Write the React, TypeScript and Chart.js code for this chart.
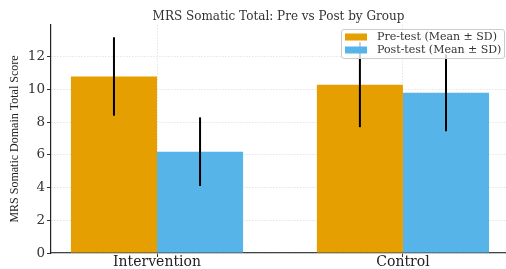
import React, { useEffect, useRef } from "react";
import { Chart, registerables } from "chart.js";

Chart.register(...registerables);

const categories = ["Intervention", "Control"];
const seriesLabels = ["Pre-test (Mean ± SD)", "Post-test (Mean ± SD)"];
const preMean = [10.8, 10.3];
const preSD = [2.4, 2.6];
const postMean = [6.2, 9.8];
const postSD = [2.1, 2.35];
const colors = ["#E69F00", "#56B4E9"];
const titleText = "MRS Somatic Total: Pre vs Post by Group";
const yTitle = "MRS Somatic Domain Total Score";

const errorBarPlugin = {
  id: "errorBars",
  afterDatasetsDraw(chart: any) {
    const ctx = chart.ctx;
    const y = chart.scales.y;
    const sds = [preSD, postSD];
    chart.data.datasets.forEach((ds: any, di: number) => {
      const meta = chart.getDatasetMeta(di);
      meta.data.forEach((el: any, i: number) => {
        const m = ds.data[i].y;
        const sd = sds[di][i];
        ctx.save();
        ctx.strokeStyle = "#000";
        ctx.lineWidth = 2;
        ctx.beginPath();
        ctx.moveTo(el.x, y.getPixelForValue(m + sd));
        ctx.lineTo(el.x, y.getPixelForValue(m - sd));
        ctx.stroke();
        ctx.restore();
      });
    });
  },
};

const legendPlugin = {
  id: "boxLegend",
  afterDraw(chart: any) {
    const ctx = chart.ctx;
    const area = chart.chartArea;
    const x0 = 341;
    const y0 = 29;
    const w = area.right - 2 - x0;
    const h = 29;
    ctx.save();
    ctx.fillStyle = "rgba(255,255,255,0.8)";
    ctx.strokeStyle = "#cccccc";
    ctx.lineWidth = 1;
    ctx.beginPath();
    (ctx as any).roundRect(x0 + 0.5, y0 + 0.5, w, h, 2.5);
    ctx.fill();
    ctx.stroke();
    ctx.font = "11px 'DejaVu Serif'";
    ctx.textBaseline = "middle";
    chart.data.datasets.forEach((ds: any, i: number) => {
      const cy = y0 + 8 + i * 13;
      ctx.fillStyle = ds.backgroundColor;
      ctx.fillRect(x0 + 4, cy - 3.5, 22, 7);
      ctx.fillStyle = "#333";
      ctx.fillText(ds.label, x0 + 36, cy + 0.5);
    });
    ctx.restore();
  },
};

export default function App() {
  const ref = useRef<HTMLCanvasElement>(null);
  useEffect(() => {
    if (!ref.current) return;
    const chart = new Chart(ref.current, {
      type: "bar",
      data: {
        datasets: [
          {
            label: seriesLabels[0],
            data: preMean.map((v, i) => ({ x: i, y: v })),
            backgroundColor: colors[0],
          },
          {
            label: seriesLabels[1],
            data: postMean.map((v, i) => ({ x: i, y: v })),
            backgroundColor: colors[1],
          },
        ],
      },
      options: {
        animation: false,
        responsive: false,
        devicePixelRatio: 1,
        layout: { padding: 0 },
        datasets: { bar: { categoryPercentage: 0.7, barPercentage: 1 } },
        plugins: {
          legend: { display: false },
          tooltip: { enabled: false },
          title: {
            display: true,
            text: titleText,
            fullSize: false,
            color: "#333",
            font: { family: "DejaVu Serif", size: 12, weight: "normal" },
            padding: { top: 9.3, bottom: 1.3 },
          },
        },
        scales: {
          x: {
            type: "linear",
            offset: false,
            min: -0.431,
            max: 1.419,
            afterBuildTicks: (s: any) => {
              s.ticks = categories.map((_, i) => ({ value: i }));
            },
            afterFit: (s: any) => {
              s.height = 16;
            },
            ticks: {
              callback: (v: any) => categories[v] ?? "",
              color: "#222",
              font: { family: "DejaVu Serif", size: 14, lineHeight: 1 },
              padding: -2,
              maxRotation: 0,
            },
            grid: {
              offset: false,
              color: "#dddddd",
              lineWidth: 0.8,
              tickColor: "#333",
              tickLength: 4,
              tickWidth: 1,
            },
            border: { color: "#444", width: 1.2, dash: [1.5, 1.5] },
          },
          y: {
            min: 0,
            max: 13.95,
            afterFit: (s: any) => {
              s.width = 51;
            },
            ticks: {
              stepSize: 2,
              includeBounds: false,
              color: "#333",
              font: { family: "DejaVu Serif", size: 13.5 },
              padding: 2,
            },
            grid: {
              color: "#dddddd",
              lineWidth: 0.8,
              tickColor: "#333",
              tickLength: 4,
              tickWidth: 1,
            },
            border: { color: "#222", width: 1.2, dash: [1.5, 1.5] },
            title: {
              display: true,
              text: yTitle,
              color: "#222",
              font: { family: "Liberation Serif", size: 12 },
              padding: { top: 8, bottom: 0 },
            },
          },
        },
      },
      plugins: [errorBarPlugin, legendPlugin],
    } as any);
    return () => chart.destroy();
  }, []);
  return (
    <div style={{ position: "absolute", left: 0, top: 0, width: 506, height: 269 }}>
      <canvas ref={ref} width={506} height={269} />
    </div>
  );
}
